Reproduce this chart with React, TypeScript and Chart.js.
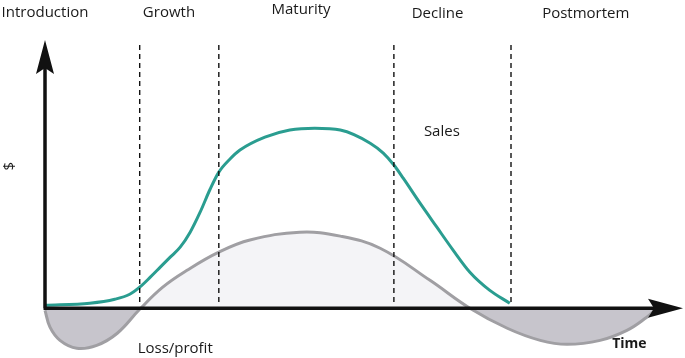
import React, { useEffect, useRef } from "react";
import { Chart, registerables } from "chart.js";

Chart.register(...registerables);

// Time axis (0..100) and money axis (-17..100) in arbitrary units
const salesX = [0, 7.2, 11.2, 13.6, 15.2, 16.9, 18.5, 20.1, 21.7, 23.3, 24.9, 26.5, 27.9, 29.7, 31.3, 35.3, 39.3, 43.3, 47.4, 52.2, 54.3, 56, 57.5, 60.2, 62.9, 65.5, 68.2, 71.4, 74.6];
const salesY = [1.1, 1.9, 3.4, 5.3, 8.0, 11.8, 15.6, 19.4, 23.2, 28.9, 36.5, 45.2, 51.7, 56.7, 60.1, 65, 67.7, 68.4, 67.7, 62.7, 58.9, 54.4, 49.4, 39.9, 30.8, 22.1, 13.7, 6.8, 1.9];

const profitX = [0, 0.8, 2.4, 5.1, 8.3, 11.6, 15.2, 18.9, 22.8, 27.9, 32.9, 40.9, 47.4, 53.8, 61.8, 68.2, 74.2, 79.5, 83.8, 89.1, 93.4, 96.6, 97.9];
const profitY = [-0.8, -7.2, -12.2, -15.2, -14.1, -9.5, -0.4, 8, 14.4, 21.3, 25.9, 28.9, 27.4, 22.8, 10.6, 0, -7.6, -12.2, -13.7, -12.2, -8.4, -3.4, -0.8];

const phaseBoundaries = [15.2, 27.9, 56, 74.8];
const phaseLabels = ["Introduction", "Growth", "Maturity", "Decline", "Postmortem"];
const phaseLabelX = [0, 19.9, 41.1, 63, 86.8];
const phaseLabelDy = [0, 0, -3, 1, 1];

const X_MIN = 0;
const X_MAX = 100;
const Y_MIN = -17;
const Y_MAX = 100;

const FONT = '"Open Sans", "DejaVu Sans", sans-serif';

const overlayPlugin = {
  id: "overlay",
  afterDatasetsDraw(chart: any) {
    const ctx = chart.ctx;
    const xs = chart.scales.x;
    const ys = chart.scales.y;
    const ox = xs.getPixelForValue(0);
    const oy = ys.getPixelForValue(0);
    const topY = ys.getPixelForValue(Y_MAX);
    const rightX = xs.getPixelForValue(X_MAX);
    ctx.save();
    // axes
    ctx.strokeStyle = "#111";
    ctx.fillStyle = "#111";
    ctx.lineWidth = 3.5;
    ctx.beginPath();
    ctx.moveTo(ox, oy);
    ctx.lineTo(ox, topY + 20);
    ctx.moveTo(ox - 1.5, oy);
    ctx.lineTo(rightX, oy);
    ctx.stroke();
    // arrow heads
    ctx.beginPath();
    ctx.moveTo(ox, topY - 5);
    ctx.lineTo(ox - 9, topY + 29);
    ctx.lineTo(ox, topY + 23);
    ctx.lineTo(ox + 9, topY + 29);
    ctx.closePath();
    ctx.fill();
    ctx.beginPath();
    ctx.moveTo(rightX + 15, oy);
    ctx.lineTo(rightX - 20, oy - 9.5);
    ctx.lineTo(rightX - 14, oy);
    ctx.lineTo(rightX - 20, oy + 9.5);
    ctx.closePath();
    ctx.fill();

    // texts
    ctx.fillStyle = "#1a1a1a";
    ctx.textBaseline = "middle";
    ctx.textAlign = "center";
    ctx.font = `15px ${FONT}`;
    phaseLabels.forEach((t, i) => {
      let x = xs.getPixelForValue(phaseLabelX[i]);
      const w = ctx.measureText(t).width;
      if (x - w / 2 < 1) x = w / 2 + 1;
      ctx.fillText(t, x, 13 + phaseLabelDy[i]);
    });
    ctx.fillText("Sales", xs.getPixelForValue(63.7), ys.getPixelForValue(67));
    ctx.fillText("Loss/profit", xs.getPixelForValue(20.9), ys.getPixelForValue(-15.2));
    ctx.font = `bold 14px ${FONT}`;
    ctx.fillText("Time", xs.getPixelForValue(93.8), ys.getPixelForValue(-13.5));
    ctx.save();
    ctx.translate(10, ys.getPixelForValue(54));
    ctx.rotate(-Math.PI / 2);
    ctx.textAlign = "center";
    ctx.font = `15px ${FONT}`;
    ctx.fillText("$", 0, 0);
    ctx.restore();
    ctx.restore();
  },
};

export default function App() {
  const ref = useRef<HTMLCanvasElement>(null);
  useEffect(() => {
    document.body.style.margin = "0";
    const dashed = phaseBoundaries.map((b) => ({
      type: "line" as const,
      data: [
        { x: b, y: Y_MAX },
        { x: b, y: 1 },
      ],
      borderColor: "#111",
      borderWidth: 1.4,
      borderDash: [5, 4],
      pointRadius: 0,
      fill: false,
      order: 0,
    }));
    const chart = new Chart(ref.current!, {
      type: "line",
      data: {
        datasets: [
          {
            label: "Loss/profit",
            data: profitX.map((x, i) => ({ x, y: profitY[i] })),
            borderColor: "#a09fa3",
            borderWidth: 3,
            pointRadius: 0,
            tension: 0.4,
            fill: { target: { value: 0 }, above: "#f4f4f7", below: "#c7c5cc" },
            clip: false,
            order: 2,
          } as any,
          {
            label: "Sales",
            data: salesX.map((x, i) => ({ x, y: salesY[i] })),
            borderColor: "#2a9d90",
            borderWidth: 3,
            pointRadius: 0,
            cubicInterpolationMode: "monotone",
            fill: false,
            clip: false,
            order: 1,
          } as any,
          ...dashed,
        ],
      },
      options: {
        animation: false,
        responsive: true,
        maintainAspectRatio: false,
        layout: { padding: { left: 45, right: 17, top: 45, bottom: 5 } },
        plugins: { legend: { display: false }, tooltip: { enabled: false } },
        scales: {
          x: { type: "linear", min: X_MIN, max: X_MAX, display: false },
          y: { type: "linear", min: Y_MIN, max: Y_MAX, display: false },
        },
      },
      plugins: [overlayPlugin],
    });
    return () => chart.destroy();
  }, []);
  return (
    <div style={{ position: "relative", width: 685, height: 358 }}>
      <canvas ref={ref} />
    </div>
  );
}
